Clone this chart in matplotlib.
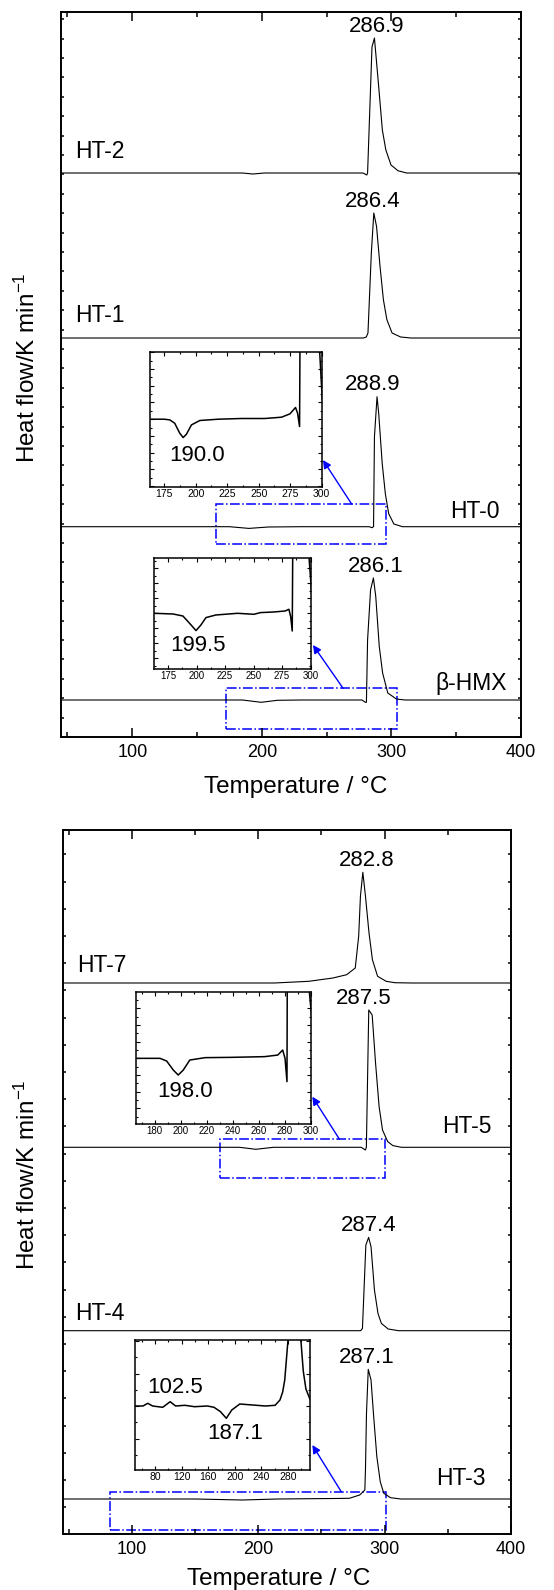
import numpy as np
import matplotlib
matplotlib.use("Agg")
import matplotlib.pyplot as plt
from matplotlib.ticker import MultipleLocator, NullFormatter
from matplotlib.patches import Rectangle

plt.rcParams['font.family'] = ['Liberation Sans', 'DejaVu Sans']
plt.rcParams['mathtext.default'] = 'regular'

W, H = 554, 1590

# ---- upper panel: DSC traces (heat flow above each trace's own baseline, a.u.)
ht2_T  = [45, 120, 185, 193, 202, 250, 278, 281.0, 281.6, 285.0, 286.9, 287.7, 290.4, 291.7, 293.0, 295.7, 299.7, 305.0, 311.7, 330, 400]
ht2_hf = [0, 0, 0, -0.1, 0, 0, 0, -0.2, 0, 12.6, 13.5, 12.3, 8.3, 6.3, 4.3, 2.3, 0.8, 0.23, 0, 0, 0]

ht1_T  = [45, 150, 278.4, 280.6, 281.9, 283.2, 284.5, 286.4, 288.5, 291.2, 293.8, 296.5, 300.5, 307.1, 315, 400]
ht1_hf = [0, 0, 0, 0.1, 0.5, 4.5, 8.5, 12.5, 11.17, 7.17, 3.83, 1.83, 0.5, 0.1, 0, 0]

ht0_T  = [45, 175, 190.0, 205, 230, 282.9, 284.9, 286.2, 286.9, 288.9, 290.2, 292.9, 295.3, 297.9, 301.9, 308.5, 400]
ht0_hf = [0, 0, -0.17, -0.03, 0, 0, -0.1, 0, 9.0, 13.0, 11.3, 6.3, 3.3, 1.3, 0.27, 0, 0]

hmx_T  = [45, 185, 199.5, 212, 230, 277.3, 279.9, 280.7, 281.6, 283.9, 286.1, 287.9, 290.6, 293.2, 297.2, 303.8, 310.5, 400]
hmx_hf = [0, 0, -0.23, -0.03, 0, 0, -0.23, -0.23, 6.0, 11.0, 12.2, 10.37, 5.37, 2.7, 0.7, 0.1, 0, 0]

top_names = ['HT-2', 'HT-1', 'HT-0', 'β-HMX']
top_offsets = [56.4, 39.9, 21.03, 3.7]

# ---- lower panel
ht7_T  = [45, 212.7, 240, 259.1, 270, 276.8, 279.5, 280.9, 282.8, 284.9, 287.7, 290.4, 294.5, 301.3, 308.1, 321.7, 400]
ht7_hf = [0, 0, 0.17, 0.5, 0.83, 1.5, 4.67, 8.67, 11.07, 8.67, 5.0, 2.33, 0.67, 0.17, 0.03, 0, 0]

ht5_T  = [45, 185, 198.0, 212, 281.5, 284.8, 285.6, 287.5, 290.2, 292.9, 295.7, 298.4, 302.5, 306.6, 313.4, 400]
ht5_hf = [0, 0, -0.2, 0, 0, -0.27, 0, 13.73, 13.23, 8.4, 4.07, 1.73, 0.57, 0.17, 0, 0]

ht4_T  = [45, 281.1, 282.5, 285.2, 287.4, 289.3, 292.0, 294.8, 297.5, 302.9, 311.1, 400]
ht4_hf = [0, 0, 0.23, 8.57, 9.33, 8.4, 4.07, 1.73, 0.73, 0.17, 0, 0]

ht3_T  = [45, 150, 187.1, 215, 260, 272.1, 280.3, 284.4, 284.9, 285.7, 287.1, 289.3, 291.2, 293.9, 296.6, 299.4, 304.8, 313, 400]
ht3_hf = [0, 0, -0.1, 0, 0.05, 0.07, 0.4, 0.9, 3.0, 8.57, 12.97, 11.9, 8.57, 4.23, 1.73, 0.57, 0.13, 0, 0]

bot_names = ['HT-7', 'HT-5', 'HT-4', 'HT-3']
bot_offsets = [55.13, 38.7, 20.36, 3.53]

# ---- enlarged views of the baseline before the exotherm
in1_T  = [163, 175, 179.4, 183.3, 187.3, 190.0, 192.6, 196.6, 203.2, 217.9, 236.4, 255, 268.2, 274.8, 279.3, 280.9, 282.5, 283.3, 297.5, 300.5]
in1_hf = [0, 0, -0.7, -4, -14, -18.3, -15, -5.7, -1.3, 0, 0.7, 0.7, 2, 5.3, 11.7, 6, -7.3, 200, 90, 20]
in1_marks = [190.0]

in2_T  = [163, 179.4, 188, 195.2, 199.5, 203.8, 208.2, 216.8, 235.9, 250.3, 256, 267.5, 277.6, 281, 282.5, 283.9, 284.8, 297.1, 300.9]
in2_hf = [0, -0.7, -2.7, -11.7, -17.3, -11.7, -4.3, -1.7, 0, -1, 0.7, 1.3, 2.3, 4, -3.3, -17.7, 150, 80, 20]
in2_marks = [199.5]

in3_T  = [165.7, 184, 189.1, 194.2, 198.0, 201.9, 206.9, 218.7, 239, 264.5, 274.7, 278.5, 280.3, 281.8, 282.3, 298.1, 302.1]
in3_hf = [0, 0, -2.7, -11.7, -16.7, -11.7, -1.7, 0.7, 1, 1.7, 3.3, 8.3, 0, -23.3, 200, 80, 23]
in3_marks = [198.0]

in4_T  = [49.4, 61.6, 68.8, 76.1, 91.3, 102.5, 110.7, 124.7, 139.2, 158.6, 168.6, 178.3, 187.1, 195.3, 207.4, 226.6, 246, 260.6, 267.9, 272, 275.1, 280, 283, 296, 299.4, 303, 307, 313]
in4_hf = [0, 0, 2.7, 0, -1.3, 4.3, 0, 0.7, -0.7, 0, -1.3, -5.7, -12.3, -4, 2, 1, 0, 0.7, 6, 14, 26, 66, 150, 150, 66, 35, 17, 7]
in4_marks = [102.5, 187.1]


def px_rect(left, right, top, bottom):
    # pixel box -> figure fraction [x, y, w, h]
    return [left / W, 1 - bottom / H, (right - left) / W, (bottom - top) / H]


def setup_main(ax, ymax, ystep):
    ax.set_xlim(45, 400)
    ax.set_ylim(0, ymax)
    ax.xaxis.set_major_locator(MultipleLocator(100))
    ax.xaxis.set_minor_locator(MultipleLocator(50))
    ax.yaxis.set_major_locator(MultipleLocator(ystep))
    ax.yaxis.set_major_formatter(NullFormatter())
    ax.tick_params(which='both', direction='in', top=True, right=True, width=1.1)
    ax.tick_params(axis='x', which='major', length=6.5, labelsize=13, pad=5)
    ax.tick_params(axis='x', which='minor', length=3.6)
    ax.tick_params(axis='y', length=2.2, labelleft=False)
    for s in ax.spines.values():
        s.set_linewidth(1.4)


def setup_inset(ax, xlim, ylim, xmaj, ymaj, lsize):
    ax.set_xlim(*xlim)
    ax.set_ylim(*ylim)
    ax.xaxis.set_major_locator(MultipleLocator(xmaj))
    ax.xaxis.set_minor_locator(MultipleLocator(xmaj / 2))
    ax.yaxis.set_major_locator(MultipleLocator(ymaj))
    ax.yaxis.set_minor_locator(MultipleLocator(ymaj / 2))
    ax.yaxis.set_major_formatter(NullFormatter())
    ax.tick_params(which='both', direction='in', top=True, right=True, width=0.8)
    ax.tick_params(which='major', length=3, labelsize=lsize, pad=1.5)
    ax.tick_params(which='minor', length=1.6)
    ax.tick_params(axis='y', labelleft=False)
    for s in ax.spines.values():
        s.set_linewidth(1.1)


def draw_stack(ax, curves, names, offsets, name_pos, label_dx):
    for (T, hf), name, off, (nx, ny, ha), dx in zip(curves, names, offsets, name_pos, label_dx):
        T = np.array(T)
        y = np.array(hf) + off
        ax.plot(T, y, color='black', lw=0.8)
        k = int(np.argmax(y))
        # peak temperature written just above the maximum
        ax.annotate(f"{T[k]:.1f}", xy=(T[k], y[k]), xytext=(dx, 4.5),
                    textcoords='offset points', ha='center', va='baseline', fontsize=16)
        ax.text(nx, ny, name, ha=ha, va='baseline', fontsize=16.5)


def draw_zoom(ax_main, rect, box, tail, head, T, hf, marks, mark_pos, xlim, ylim, xmaj, ymaj, lsize):
    # dashed frame on the main trace, arrow to the enlarged view
    x0, x1, y0, y1 = box
    ax_main.add_patch(Rectangle((x0, y0), x1 - x0, y1 - y0, fill=False,
                                edgecolor='blue', lw=1.1, ls='-.'))
    ins = fig.add_axes(px_rect(*rect))
    ins.plot(T, hf, color='black', lw=1.1)
    setup_inset(ins, xlim, ylim, xmaj, ymaj, lsize)
    for m, (mx, my) in zip(marks, mark_pos):
        ins.text(mx, my, f"{m:.1f}", ha='center', va='baseline', fontsize=16)
    ax_main.annotate('', xy=head, xycoords=ins.transAxes, xytext=tail, textcoords='data',
                     arrowprops=dict(arrowstyle='-|>', color='blue', lw=1.0,
                                     mutation_scale=12, shrinkA=0, shrinkB=0))
    return ins


fig = plt.figure(figsize=(W / 100, H / 100), dpi=100)

# upper panel
ax1 = fig.add_axes(px_rect(61, 521, 12, 737))
setup_main(ax1, 72.5, 1.94)
draw_stack(ax1, [(ht2_T, ht2_hf), (ht1_T, ht1_hf), (ht0_T, ht0_hf), (hmx_T, hmx_hf)],
           top_names, top_offsets,
           [(56.1, 57.87, 'left'), (56.1, 41.53, 'left'), (383.8, 21.87, 'right'), (389.1, 4.7, 'right')],
           [1.9, -1.0, -3.3, 1.8])

draw_zoom(ax1, (150.3, 321.6, 352, 486.7), (164.5, 295.6, 19.3, 23.3), (269.3, 23.3), (1.008, 0.198),
          in1_T, in1_hf, in1_marks, [(201.2, -41.4)], (163.9, 300), (-67.3, 67), 25, 16.7, 7.5)
draw_zoom(ax1, (154.4, 310.6, 558.3, 669.3), (172.7, 304.4, 0.8, 4.9), (262.7, 4.87), (1.015, 0.219),
          in2_T, in2_hf, in2_marks, [(201.4, -37.7)], (163, 300), (-56, 55), 25, 15, 7)

# lower panel
ax2 = fig.add_axes(px_rect(62.8, 510.7, 830, 1534.3))
setup_main(ax2, 70.43, 2.72)
draw_stack(ax2, [(ht7_T, ht7_hf), (ht5_T, ht5_hf), (ht4_T, ht4_hf), (ht3_T, ht3_hf)],
           bot_names, bot_offsets,
           [(56.7, 56.26, 'left'), (384.8, 40.1, 'right'), (55.1, 21.43, 'left'), (380.2, 4.93, 'right')],
           [3.0, -3.7, 0.0, -0.9])

draw_zoom(ax2, (136.3, 310.6, 991.7, 1124.3), (169.2, 300.3, 35.6, 39.5), (264.3, 39.5), (1.01, 0.208),
          in3_T, in3_hf, in3_marks, [(203.4, -38.3)], (165.7, 300), (-66, 66.7), 20, 16.7, 7)
draw_zoom(ax2, (134.9, 309.9, 1340, 1470), (82.6, 301.1, 0.43, 4.26), (265.7, 4.26), (1.014, 0.192),
          in4_T, in4_hf, in4_marks, [(110.6, 13.3), (201, -33.3)], (49.4, 313), (-64, 66), 40, 32.5, 7.5)

# axis titles
fig.text(296 / W, 1 - 793.3 / H, 'Temperature / \u00b0C', ha='center', va='baseline', fontsize=17.5)
fig.text(279 / W, 1 - 1585 / H, 'Temperature / \u00b0C', ha='center', va='baseline', fontsize=17.5)
for yc in (367.5, 1175):
    fig.text(27 / W, 1 - yc / H, 'Heat flow/K min$^{-1}$', rotation=90,
             ha='center', va='center', fontsize=17.5)

fig.savefig('out.png', dpi=100)
